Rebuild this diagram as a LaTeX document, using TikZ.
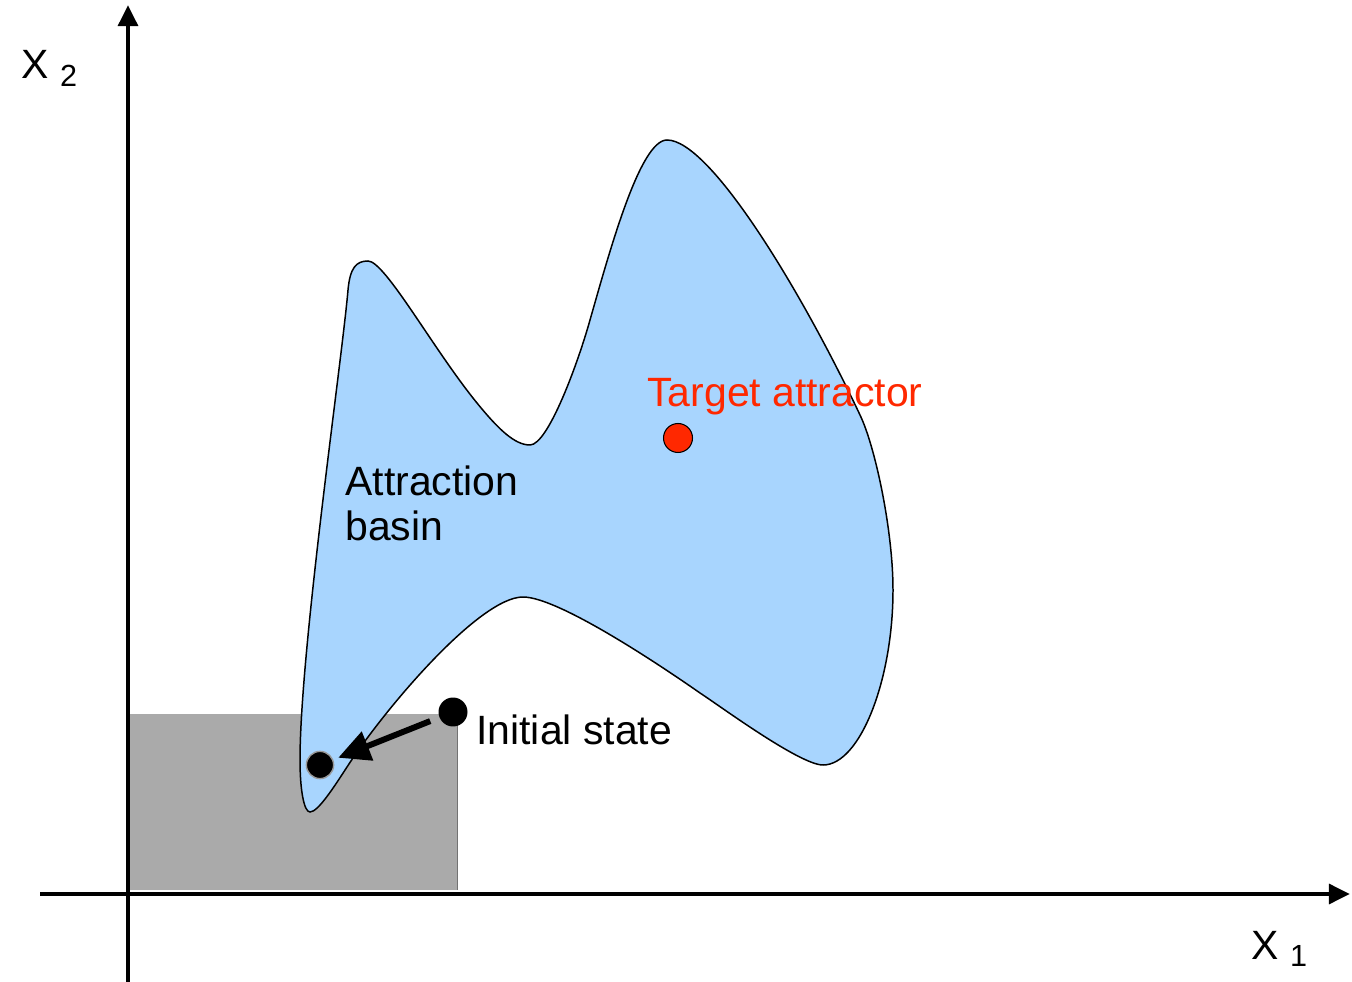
\documentclass[tikz,border=0pt]{standalone}
\usepackage{fontspec}
\setmainfont{Liberation Sans}
\usetikzlibrary{arrows.meta}
\definecolor{basinblue}{RGB}{168,213,254}
\definecolor{targetred}{RGB}{255,40,0}
\definecolor{boxgray}{RGB}{170,170,170}
\begin{document}
\begin{tikzpicture}[x=0.02cm,y=-0.02cm,
  lbl/.style={font=\fontsize{23.3}{26.1}\selectfont,inner sep=0pt,anchor=base west,align=left},
  axis/.style={line width=2.8pt,-{Triangle[length=12pt,width=11pt]}},
  dot/.style={circle,fill=black,minimum size=16.5pt,inner sep=0pt}]
\useasboundingbox (0,0) rectangle (1352,982);
% initial region
\fill[boxgray] (127,714) rectangle (457,890);
\draw[line width=0.5pt,black!55] (457,714)--(457,890);
% axes
\draw[axis] (40,894)--(1350,894);
\draw[axis] (128,982)--(128,5);
\node[lbl] (xone) at (1251,959) {X~\raisebox{-4pt}{\fontsize{17.4}{20}\selectfont 1}};
\node[lbl] (xtwo) at (21,79) {X~\raisebox{-4pt}{\fontsize{17.4}{20}\selectfont 2}};
% basin
\draw[fill=basinblue,line width=0.85pt] (310,812)
  .. controls (304,812) and (300,790) .. (300,760)
  .. controls (300,650) and (342,360) .. (348,290)
  .. controls (350,268) and (356,261) .. (368,261)
  .. controls (385,261) and (433,349) .. (477,403)
  .. controls (499,430) and (515,445) .. (530,445)
  .. controls (548,445) and (578,363) .. (590,320)
  .. controls (610,250) and (640,140) .. (667,140)
  .. controls (710,140) and (801,290) .. (860,415)
  .. controls (875,446) and (893,530) .. (893,590)
  .. controls (893,680) and (860,765) .. (823,765)
  .. controls (800,765) and (720,706) .. (700,693)
  .. controls (670,672) and (560,597) .. (523,597)
  .. controls (480,597) and (386,707) .. (347,767)
  .. controls (334,787) and (318,812) .. (310,812) -- cycle;
\node[lbl] (basin) at (345,541) {Attraction\\basin};
% attractor
\node[dot,fill=targetred,draw=black,line width=0.6pt] (target) at (678,438) {};
\node[lbl,text=targetred] (targetlbl) at (647,407) {Target attractor};
% initial state
\node[dot,draw=black!40,line width=0.8pt,minimum size=15.5pt] (goal) at (320,765) {};
\node[dot] (init) at (453,712) {};
\node[lbl] (initlbl) at (476,744) {Initial state};
\draw[line width=3.4pt,-{Triangle[length=18pt,width=17pt]},shorten <=5.5pt,shorten >=3pt] (init)--(goal);
\end{tikzpicture}
\end{document}
